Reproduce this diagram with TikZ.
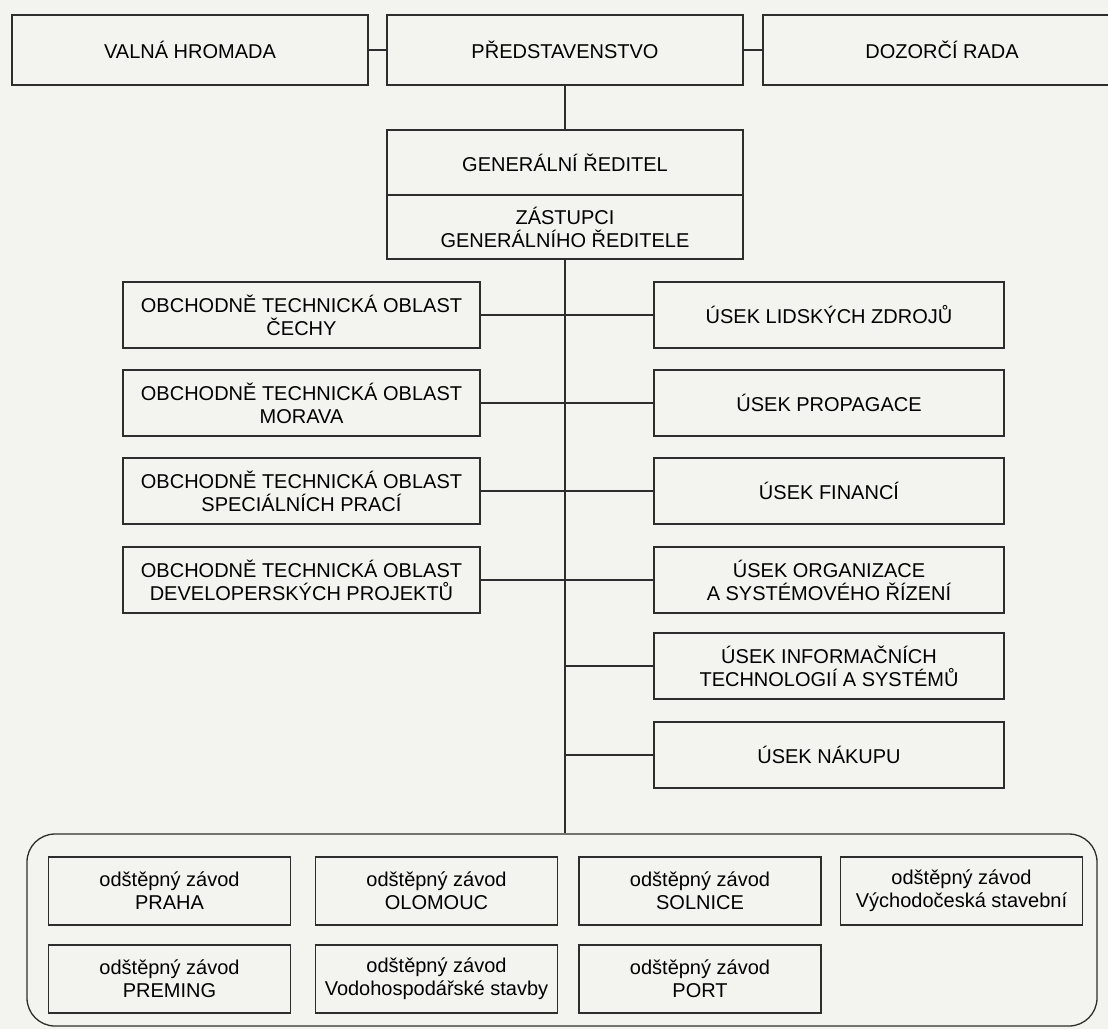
\documentclass[tikz,border=0pt]{standalone}
\usepackage{fontspec}
\setmainfont{Liberation Sans}
\usepackage{xcolor}
\usetikzlibrary{positioning, calc}

\definecolor{paper}{RGB}{243,243,240}
\definecolor{ink}{RGB}{45,45,45}

\tikzset{
	unit/.style={draw=ink, line width=1.3pt, align=center, inner sep=2pt,
		minimum height=66pt, font=\fontsize{20}{23}\selectfont},
	oblast/.style={unit, minimum width=357pt},
	usek/.style={unit, minimum width=350pt},
	zavod/.style={unit, minimum width=242pt, minimum height=68pt},
	link/.style={draw=ink, line width=1.3pt}
}

\begin{document}
\begin{tikzpicture}[x=1pt, y=-1pt]
		\fill[paper] (0,0) rectangle (1108,1029);
		\useasboundingbox (0,0) rectangle (1108,1029);

		% Top row
		\node[unit, minimum width=356pt, minimum height=70pt] (valna) at (190,50) {VALNÁ HROMADA};
		\node[unit, minimum width=356pt, minimum height=70pt] (pred) at (565,50) {PŘEDSTAVENSTVO};
		\node[unit, minimum width=358pt, minimum height=70pt] (dozor) at (942,50) {DOZORČÍ RADA};

		\draw[link] (valna) -- (pred);
		\draw[link] (pred) -- (dozor);

		% Generalni reditel
		\node[unit, minimum width=356pt, minimum height=65pt] (gr) at (565,162.5) {GENERÁLNÍ ŘEDITEL};
		\node[unit, minimum width=356pt, minimum height=64pt] (zast) at (565,227) {ZÁSTUPCI\\GENERÁLNÍHO ŘEDITELE};

		\draw[link] (pred) -- (gr);

		% Obchodne technicke oblasti
		\node[oblast] (ot1) at (301.5,315) {OBCHODNĚ TECHNICKÁ OBLAST\\ČECHY};
		\node[oblast] (ot2) at (301.5,403) {OBCHODNĚ TECHNICKÁ OBLAST\\MORAVA};
		\node[oblast] (ot3) at (301.5,491) {OBCHODNĚ TECHNICKÁ OBLAST\\SPECIÁLNÍCH PRACÍ};
		\node[oblast] (ot4) at (301.5,580) {OBCHODNĚ TECHNICKÁ OBLAST\\DEVELOPERSKÝCH PROJEKTŮ};

		% Useky
		\node[usek] (u1) at (829,315) {ÚSEK LIDSKÝCH ZDROJŮ};
		\node[usek] (u2) at (829,403) {ÚSEK PROPAGACE};
		\node[usek] (u3) at (829,491) {ÚSEK FINANCÍ};
		\node[usek] (u4) at (829,580) {ÚSEK ORGANIZACE\\A SYSTÉMOVÉHO ŘÍZENÍ};
		\node[usek] (u5) at (829,666) {ÚSEK INFORMAČNÍCH\\TECHNOLOGIÍ A SYSTÉMŮ};
		\node[usek] (u6) at (829,755) {ÚSEK NÁKUPU};

		% Odstepne zavody
		\node[draw=ink, line width=1.3pt, rounded corners=28pt, minimum width=1070pt, minimum height=192pt] (zavody) at (562,930) {};

		\node[zavod] (praha) at (169.5,891) {odštěpný závod\\PRAHA};
		\node[zavod] (olomouc) at (436.5,891) {odštěpný závod\\OLOMOUC};
		\node[zavod] (solnice) at (700,891) {odštěpný závod\\SOLNICE};
		\node[zavod] (vychod) at (961.5,891) {odštěpný závod\\Východočeská stavební};
		\node[zavod] (preming) at (169.5,979) {odštěpný závod\\PREMING};
		\node[zavod] (vodo) at (436.5,979) {odštěpný závod\\Vodohospodářské stavby};
		\node[zavod] (port) at (700,979) {odštěpný závod\\PORT};

		% Trunk and branches
		\draw[link] (zast) -- (zast.south |- zavody.north);
		\draw[link] (ot1) -- (u1);
		\draw[link] (ot2) -- (u2);
		\draw[link] (ot3) -- (u3);
		\draw[link] (ot4) -- (u4);
		\draw[link] (zast.south |- u5.west) -- (u5);
		\draw[link] (zast.south |- u6.west) -- (u6);
	\end{tikzpicture}
\end{document}
